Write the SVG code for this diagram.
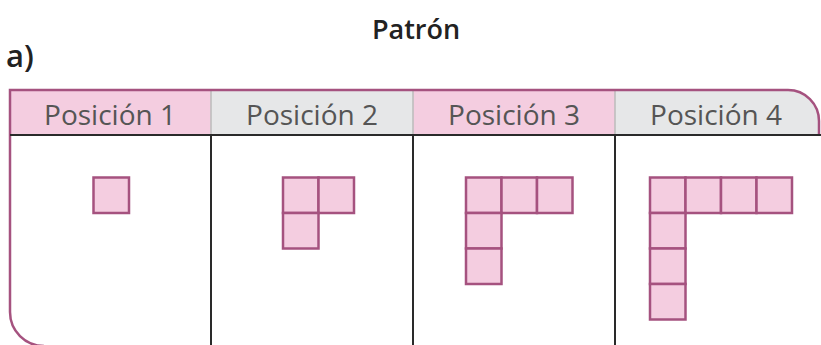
<svg xmlns="http://www.w3.org/2000/svg" width="821" height="345" viewBox="0 0 821 345">
<style>
.t{font-family:"Open Sans","Noto Sans",sans-serif;fill:#222;font-weight:600}
.h{font-family:"Open Sans","Noto Sans",sans-serif;fill:#555;font-size:28px;text-anchor:middle}
.sq{fill:#f4cde0;stroke:#a5527f;stroke-width:2.5}
.dv{stroke:#2a2a2a;stroke-width:2}
</style>
<text class="t" x="416" y="39" font-size="27" text-anchor="middle">Patrón</text>
<text class="t" x="6" y="67" font-size="31">a)</text>
<g id="header">
<rect x="10" y="90" width="201" height="45" fill="#f4cde0"/>
<rect x="211" y="90" width="202" height="45" fill="#e6e7e8"/>
<rect x="413" y="90" width="202" height="45" fill="#f4cde0"/>
<path d="M615 90 H788 A31 31 0 0 1 819 121 V135 H615 Z" fill="#e6e7e8"/>
<line x1="211" y1="90" x2="211" y2="135" stroke="#bbb" stroke-width="1.5"/>
<line x1="413" y1="90" x2="413" y2="135" stroke="#bbb" stroke-width="1.5"/>
<line x1="615" y1="90" x2="615" y2="135" stroke="#bbb" stroke-width="1.5"/>
<text class="h" x="110" y="125">Posición 1</text>
<text class="h" x="312" y="125">Posición 2</text>
<text class="h" x="514" y="125">Posición 3</text>
<text class="h" x="716" y="125">Posición 4</text>
</g>
<g id="frame">
<path d="M44 346 A34 34 0 0 1 10 312 V90 H788 A31 31 0 0 1 819 121 V135" fill="none" stroke="#a5527f" stroke-width="2.5"/>
<line class="dv" x1="10" y1="135" x2="821" y2="135"/>
<line class="dv" x1="211" y1="135" x2="211" y2="345"/>
<line class="dv" x1="413" y1="135" x2="413" y2="345"/>
<line class="dv" x1="615" y1="135" x2="615" y2="345"/>
</g>
<g id="pos1">
<rect class="sq" x="93.5" y="177.5" width="35.5" height="35.5"/>
</g>
<g id="pos2">
<rect class="sq" x="283" y="177.5" width="35.5" height="35.5"/>
<rect class="sq" x="318.5" y="177.5" width="35.5" height="35.5"/>
<rect class="sq" x="283" y="213" width="35.5" height="35.5"/>
</g>
<g id="pos3">
<rect class="sq" x="466" y="177.5" width="35.5" height="35.5"/>
<rect class="sq" x="501.5" y="177.5" width="35.5" height="35.5"/>
<rect class="sq" x="537" y="177.5" width="35.5" height="35.5"/>
<rect class="sq" x="466" y="213" width="35.5" height="35.5"/>
<rect class="sq" x="466" y="248.5" width="35.5" height="35.5"/>
</g>
<g id="pos4">
<rect class="sq" x="650" y="177.5" width="35.5" height="35.5"/>
<rect class="sq" x="685.5" y="177.5" width="35.5" height="35.5"/>
<rect class="sq" x="721" y="177.5" width="35.5" height="35.5"/>
<rect class="sq" x="756.5" y="177.5" width="35.5" height="35.5"/>
<rect class="sq" x="650" y="213" width="35.5" height="35.5"/>
<rect class="sq" x="650" y="248.5" width="35.5" height="35.5"/>
<rect class="sq" x="650" y="284" width="35.5" height="35.5"/>
</g>
</svg>
